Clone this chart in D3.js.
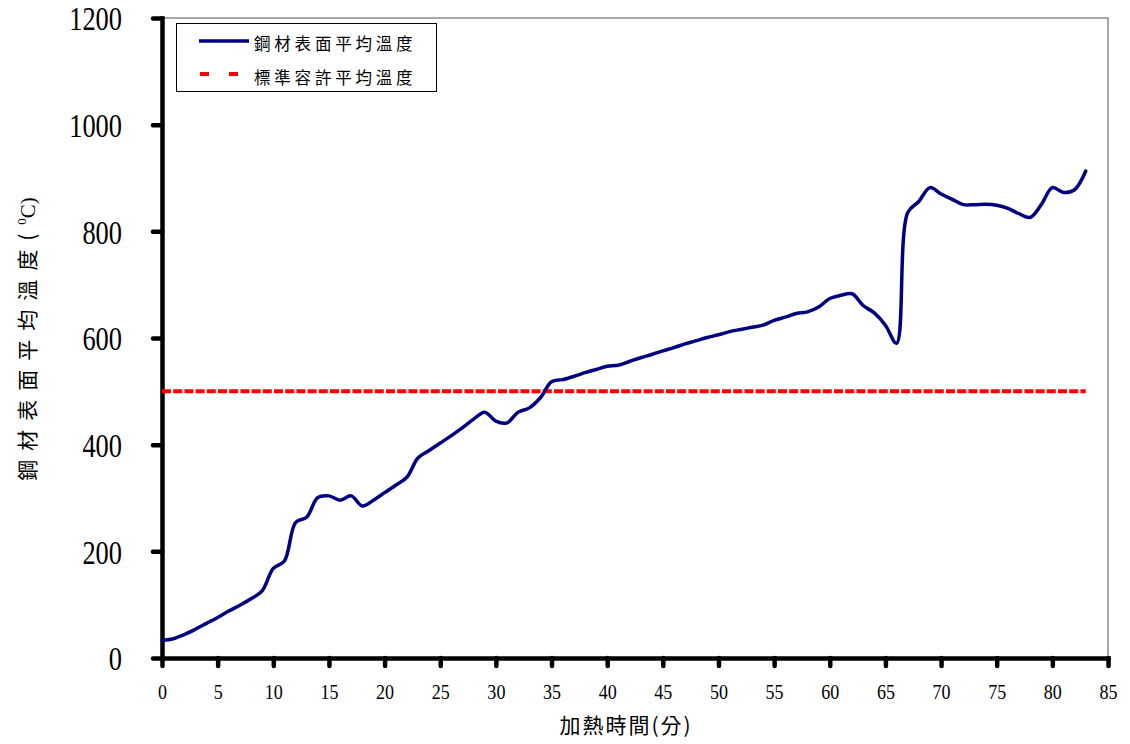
<!DOCTYPE html>
<html>
<head>
<meta charset="utf-8">
<script src="https://cdn.jsdelivr.net/npm/d3@7"></script>
<style>
  body { margin: 0; background: #fff; }
  svg { display: block; }
</style>
</head>
<body>
<svg id="chart" width="1130" height="744"></svg>
<script>
// Heating time (minutes) and measured steel surface average temperature (°C)
const minutes = [
  0, 1, 2, 3, 4, 5, 6, 7, 8, 9,
  10, 11, 12, 13, 14, 15, 16, 17, 18, 19,
  20, 21, 22, 23, 24, 25, 26, 27, 28, 29,
  30, 31, 32, 33, 34, 35, 36, 37, 38, 39,
  40, 41, 42, 43, 44, 45, 46, 47, 48, 49,
  50, 51, 52, 53, 54, 55, 56, 57, 58, 59,
  60, 61, 62, 63, 64, 65, 66, 67, 68, 69,
  70, 71, 72, 73, 74, 75, 76, 77, 78, 79,
  80, 81, 82, 83
];
const surfaceTemp = [
  33, 36, 44, 54, 65, 76, 88, 99, 111, 126,
  168, 182, 254, 264, 301, 304, 296, 304, 285, 296,
  310, 324, 339, 375, 389, 403, 417, 432, 448, 461,
  444, 441, 461, 469, 488, 518, 522, 528, 535, 541,
  547, 549, 556, 563, 569, 576, 582, 589, 595, 601,
  606, 612, 616, 620, 624, 633, 639, 646, 649, 658,
  674, 680, 683, 661, 647, 624, 590, 835, 856, 882,
  870, 860, 850, 850, 851, 849, 843, 833, 826, 850,
  882, 873, 878, 913
];
// Allowed standard average temperature
const limitMinutes = [0, 83];
const limitTemp = [500, 500];

const xTicks = [0, 5, 10, 15, 20, 25, 30, 35, 40, 45, 50, 55, 60, 65, 70, 75, 80, 85];
const yTicks = [0, 200, 400, 600, 800, 1000, 1200];
const seriesNames = ["鋼材表面平均溫度", "標準容許平均溫度"];
const xTitle = "加熱時間(分)";
const yTitle = "鋼材表面平均溫度(";

const numFont = "'Liberation Serif', 'DejaVu Serif', serif";
const cjkFont = "'Noto Sans CJK TC', 'Noto Sans CJK JP', sans-serif";
const navy = "#000080";
const red = "#ff0000";

const svg = d3.select("#chart");
const box = { left: 162, top: 18, right: 1108, bottom: 658 };

const x = d3.scaleLinear().domain([0, 85]).range([box.left, box.right]);
const y = d3.scaleLinear().domain([0, 1200]).range([box.bottom, box.top]);

// Thin grey frame on the top and right of the plot area
svg.append("path")
  .attr("d", `M${box.left},${box.top}H${box.right}V${box.bottom}`)
  .attr("fill", "none")
  .attr("stroke", "#8c8c8c")
  .attr("stroke-width", 1.5);

// Y axis
const yAxis = svg.append("g")
  .attr("transform", `translate(${box.left},0)`)
  .call(d3.axisLeft(y).tickValues(yTicks).tickFormat(d3.format("d"))
    .tickSize(9).tickPadding(31).tickSizeOuter(0));
yAxis.select(".domain").attr("stroke", "#000").attr("stroke-width", 4.5);
yAxis.selectAll(".tick line")
  .attr("stroke", "#000").attr("stroke-width", 4.5).attr("stroke-linecap", "round");
yAxis.selectAll(".tick text")
  .attr("font-family", numFont)
  .attr("font-size", 33)
  .attr("fill", "#000")
  .attr("dy", "0.33em")
  .attr("transform", function () {
    const tx = +this.getAttribute("x");
    return `translate(${tx},1) scale(0.8,1)`;
  })
  .attr("x", 0);

// X axis
const xAxis = svg.append("g")
  .attr("transform", `translate(0,${box.bottom})`)
  .call(d3.axisBottom(x).tickValues(xTicks).tickFormat(d3.format("d"))
    .tickSize(8).tickPadding(18).tickSizeOuter(0));
xAxis.select(".domain").attr("stroke", "#000").attr("stroke-width", 4.5);
xAxis.selectAll(".tick line")
  .attr("stroke", "#000").attr("stroke-width", 4.5).attr("stroke-linecap", "round");
xAxis.selectAll(".tick text")
  .attr("font-family", numFont)
  .attr("font-size", 21)
  .attr("fill", "#000")
  .attr("transform", "scale(0.86,1)");
svg.selectAll(".domain").attr("stroke-linecap", "square");

// Standard allowed temperature (dashed red)
const limitLine = d3.line()
  .x((d, i) => x(limitMinutes[i]))
  .y(d => y(d));
svg.append("path")
  .datum(limitTemp)
  .attr("d", limitLine)
  .attr("fill", "none")
  .attr("stroke", red)
  .attr("stroke-width", 4)
  .attr("stroke-dasharray", "9,2.2");

// Surface temperature curve (smoothed)
const tempLine = d3.line()
  .x((d, i) => x(minutes[i]))
  .y(d => y(d))
  .curve(d3.curveCatmullRom.alpha(0.5));
svg.append("path")
  .datum(surfaceTemp)
  .attr("d", tempLine)
  .attr("fill", "none")
  .attr("stroke", navy)
  .attr("stroke-width", 3.5)
  .attr("stroke-linejoin", "round")
  .attr("stroke-linecap", "round");

// Legend
const legend = svg.append("g");
legend.append("rect")
  .attr("x", 176.5).attr("y", 23.5)
  .attr("width", 260).attr("height", 68)
  .attr("fill", "#fff")
  .attr("stroke", "#000")
  .attr("stroke-width", 1);
legend.append("line")
  .attr("x1", 199).attr("x2", 249).attr("y1", 41).attr("y2", 41)
  .attr("stroke", navy).attr("stroke-width", 3.5);
legend.append("line")
  .attr("x1", 200).attr("x2", 240).attr("y1", 74).attr("y2", 74)
  .attr("stroke", red).attr("stroke-width", 4)
  .attr("stroke-dasharray", "9,20");
legend.selectAll("text.series")
  .data(seriesNames)
  .join("text")
  .attr("class", "series")
  .attr("x", 254)
  .attr("y", (d, i) => 50 + i * 34)
  .attr("font-family", cjkFont)
  .attr("font-size", 16.5)
  .attr("letter-spacing", "3.8px")
  .attr("fill", "#000")
  .text(d => d);

// Axis titles
svg.append("text")
  .attr("x", 626)
  .attr("y", 733)
  .attr("text-anchor", "middle")
  .attr("font-family", cjkFont)
  .attr("font-size", 21)
  .attr("letter-spacing", "2px")
  .attr("fill", "#000")
  .text(xTitle);

const yt = svg.append("text")
  .attr("transform", "translate(35,339) rotate(-90)")
  .attr("text-anchor", "middle")
  .attr("font-family", cjkFont)
  .attr("font-size", 21)
  .attr("letter-spacing", "9px")
  .attr("fill", "#000");
yt.append("tspan").text(yTitle);
yt.append("tspan")
  .attr("font-family", numFont)
  .attr("font-size", 13)
  .attr("dy", -9)
  .attr("letter-spacing", "0px")
  .text("0");
yt.append("tspan")
  .attr("font-family", numFont)
  .attr("dy", 9)
  .attr("letter-spacing", "0px")
  .text("C)");
</script>
</body>
</html>
